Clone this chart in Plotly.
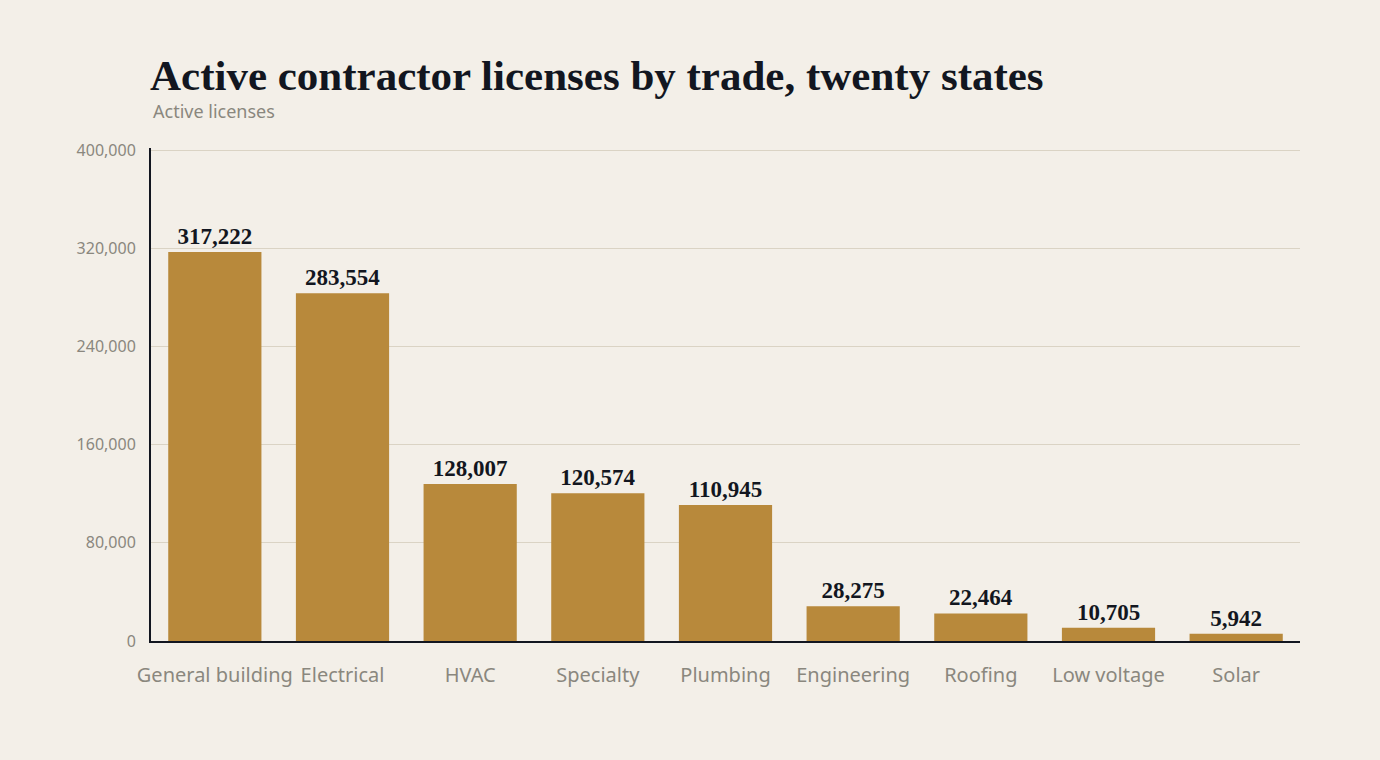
import plotly.graph_objects as go

trades = ['General building', 'Electrical', 'HVAC', 'Specialty', 'Plumbing',
          'Engineering', 'Roofing', 'Low voltage', 'Solar']
licenses = [317222, 283554, 128007, 120574, 110945, 28275, 22464, 10705, 5942]
y_ticks = [0, 80000, 160000, 240000, 320000, 400000]

bg = '#F3EFE8'
gold = '#B8893B'
ink = '#121620'
grey = '#8A877E'

fig = go.Figure()

fig.add_trace(go.Bar(x=trades, y=licenses,
                     marker=dict(color=gold, line=dict(width=0)),
                     text=[f'<b>{v:,}</b>' for v in licenses],
                     textposition='outside',
                     textfont=dict(family='Liberation Serif', size=23, color=ink),
                     cliponaxis=False,
                     hoverinfo='x+y'))

fig.update_layout(
    width=1380, height=760,
    paper_bgcolor=bg, plot_bgcolor=bg,
    margin=dict(l=151, r=80, t=148, b=119),
    bargap=0.27,
    showlegend=False,
    font=dict(family='Noto Sans', color=grey),
    title=dict(text='<b>Active contractor licenses by trade, twenty states</b>',
               font=dict(family='Liberation Serif', size=43, color=ink),
               x=150/1380, xanchor='left', xref='container',
               y=1 - 75/760, yanchor='middle', yref='container'),
)
fig.add_annotation(text='Active licenses', xref='paper', yref='paper',
                   x=0, y=1.076, xanchor='left', yanchor='middle',
                   showarrow=False, font=dict(family='Noto Sans', size=18, color=grey))

fig.update_xaxes(showline=True, linecolor=ink, linewidth=2,
                 tickfont=dict(family='Noto Sans', size=20, color=grey),
                 ticks='', showgrid=False, ticklabelstandoff=15)
fig.update_yaxes(range=[0, 402000], tickvals=y_ticks, tickformat=',',
                 showline=True, linecolor=ink, linewidth=2,
                 gridcolor='#DAD3C4', gridwidth=1, zeroline=False,
                 tickfont=dict(family='Noto Sans', size=16, color=grey),
                 ticks='', ticklabelstandoff=10)

fig.write_html('out.html', config={'displayModeBar': False},
               post_script="document.body.style.margin='0';"
                           "document.body.style.background='#F3EFE8';")
